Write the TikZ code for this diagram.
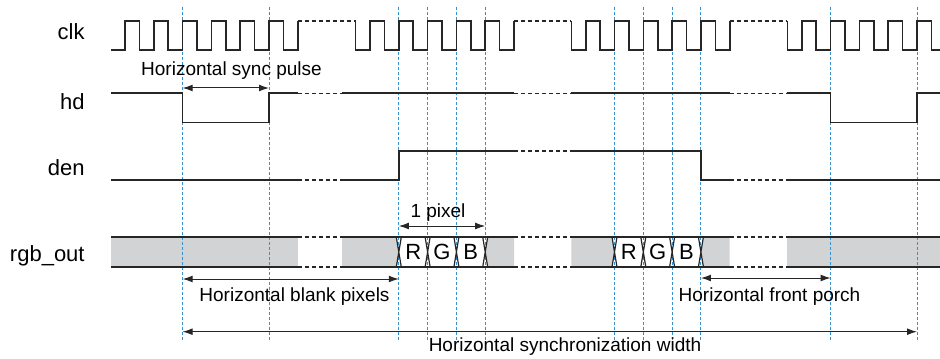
\documentclass[tikz,border=0pt]{standalone}
\usepackage{fontspec}
\setmainfont{Liberation Sans}
\usepackage{tikz}
\usetikzlibrary{arrows.meta}

\definecolor{guideblue}{RGB}{50,145,210}
\definecolor{busgray}{RGB}{209,211,212}

\tikzset{
  sig/.style={line width=0.8pt, black!85},
  gap/.style={line width=0.6pt, black!85, dash pattern=on 2pt off 1.5pt},
  guide/.style={line width=0.5pt, guideblue, dash pattern=on 1.5pt off 1pt},
  dim/.style={line width=0.5pt, black!85, <->},
  signame/.style={anchor=base east, inner sep=0pt, font=\fontsize{11}{13}\selectfont},
  note/.style={inner sep=0pt, font=\fontsize{9.5}{11}\selectfont},
  cell/.style={inner sep=0pt, font=\fontsize{11}{13}\selectfont}
}

\begin{document}
\begin{tikzpicture}[x=0.5pt, y=-0.5pt, >={Latex[length=5pt,width=3.4pt]}]
      \useasboundingbox (0,0) rectangle (940,358);

      % Marker positions
      \coordinate (m1) at (182.6,7);
      \coordinate (m2) at (269,7);
      \coordinate (m3) at (398.8,7);
      \coordinate (m4) at (427.6,7);
      \coordinate (m5) at (456.4,7);
      \coordinate (m6) at (485.2,7);
      \coordinate (m7) at (614.5,7);
      \coordinate (m8) at (643.3,7);
      \coordinate (m9) at (672.1,7);
      \coordinate (m10) at (700.9,7);
      \coordinate (m11) at (830.6,7);
      \coordinate (m12) at (917,7);
      \coordinate (gbot) at (0,341);

      % Gray bus areas
      \fill[busgray] (111,237) rectangle (297.8,267);
      \fill[busgray] (342,237) -- (396.3,237) -- (398.8,252) -- (396.3,267) -- (342,267) -- cycle;
      \fill[busgray] (487.7,237) -- (514,237) -- (514,267) -- (487.7,267) -- (485.2,252) -- cycle;
      \fill[busgray] (571.3,237) -- (612,237) -- (614.5,252) -- (612,267) -- (571.3,267) -- cycle;
      \fill[busgray] (703.4,237) -- (729.7,237) -- (729.7,267) -- (703.4,267) -- (700.9,252) -- cycle;
      \fill[busgray] (787.4,237) rectangle (940,267);

      % Timing guides
      \foreach \i in {1,...,12}
        \draw[guide] (m\i) -- (m\i |- gbot);

      % Signal names
      \node[signame] (clk) at (85,39.3) {clk};
      \node[signame] (hd) at (85,110) {hd};
      \node[signame] (den) at (85,175.7) {den};
      \node[signame] (rgb) at (85,261) {rgb\_out};

      % clk
      \draw[sig] (111,50) \foreach \k in {0,...,5} { -- ({125+28.8*\k},50) -- ({125+28.8*\k},21)
        -- ({139.4+28.8*\k},21) -- ({139.4+28.8*\k},50) } -- (297.8,50) -- (297.8,21);
      \draw[gap] (297.8,21) -- (355.6,21);
      \draw[sig] (355.6,21) \foreach \k in {0,...,5} { -- ({355.6+28.8*\k},21) -- ({355.6+28.8*\k},50)
        -- ({370+28.8*\k},50) -- ({370+28.8*\k},21) };
      \draw[gap] (514,21) -- (571.3,21);
      \draw[sig] (571.3,21) \foreach \k in {0,...,5} { -- ({571.3+28.8*\k},21) -- ({571.3+28.8*\k},50)
        -- ({585.7+28.8*\k},50) -- ({585.7+28.8*\k},21) };
      \draw[gap] (729.7,21) -- (787.4,21);
      \draw[sig] (787.4,21) \foreach \k in {0,...,4} { -- ({787.4+28.8*\k},21) -- ({787.4+28.8*\k},50)
        -- ({801.8+28.8*\k},50) -- ({801.8+28.8*\k},21) } -- (931.4,21) -- (931.4,50) -- (940,50);

      % hd
      \draw[sig] (111,93.3) -- (182.6,93.3) -- (182.6,122.3) -- (269,122.3) -- (269,93.3) -- (297.8,93.3);
      \draw[gap] (297.8,93.3) -- (342,93.3);
      \draw[sig] (342,93.3) -- (514,93.3);
      \draw[gap] (514,93.3) -- (571.3,93.3);
      \draw[sig] (571.3,93.3) -- (729.7,93.3);
      \draw[gap] (729.7,93.3) -- (787.4,93.3);
      \draw[sig] (787.4,93.3) -- (830.6,93.3) -- (830.6,122.3) -- (917,122.3) -- (917,93.3) -- (940,93.3);

      % den
      \draw[sig] (111,180) -- (297.8,180);
      \draw[gap] (297.8,180) -- (342,180);
      \draw[sig] (342,180) -- (398.8,180) -- (398.8,151) -- (514,151);
      \draw[gap] (514,151) -- (571.3,151);
      \draw[sig] (571.3,151) -- (700.9,151) -- (700.9,180) -- (729.7,180);
      \draw[gap] (729.7,180) -- (787.4,180);
      \draw[sig] (787.4,180) -- (940,180);

      % rgb_out
      \draw[sig] (111,237) -- (297.8,237) (111,267) -- (297.8,267);
      \draw[gap] (297.8,237) -- (342,237) (297.8,267) -- (342,267);
      \draw[sig] (342,237) -- (514,237) (342,267) -- (514,267);
      \draw[gap] (514,237) -- (571.3,237) (514,267) -- (571.3,267);
      \draw[sig] (571.3,237) -- (729.7,237) (571.3,267) -- (729.7,267);
      \draw[gap] (729.7,237) -- (787.4,237) (729.7,267) -- (787.4,267);
      \draw[sig] (787.4,237) -- (940,237) (787.4,267) -- (940,267);
      \foreach \x in {398.8,427.6,456.4,485.2,614.5,643.3,672.1,700.9}
        \draw[sig, line width=0.6pt] ({\x-2.5},237) -- ({\x+2.5},267) ({\x-2.5},267) -- ({\x+2.5},237);
      \node[cell] (r1) at (413.2,252) {R};
      \node[cell] (g1) at (442,252) {G};
      \node[cell] (b1) at (470.8,252) {B};
      \node[cell] (r2) at (628.9,252) {R};
      \node[cell] (g2) at (657.7,252) {G};
      \node[cell] (b2) at (686.5,252) {B};

      % Dimension arrows
      \coordinate (ysp) at (0,88);
      \coordinate (ypx) at (0,226);
      \coordinate (ybl) at (0,279);
      \coordinate (yfp) at (0,278);
      \coordinate (ysw) at (0,331.7);
      \draw[dim] (m1 |- ysp) -- (m2 |- ysp);
      \draw[dim] (m3 |- ypx) -- (m6 |- ypx);
      \draw[dim] (m1 |- ybl) -- (m3 |- ybl);
      \draw[dim] (m10 |- yfp) -- (m11 |- yfp);
      \draw[dim] (m1 |- ysw) -- (m12 |- ysw);

      % Dimension labels
      \node[note] (sync) at (231.5,71) {Horizontal sync pulse};
      \node[note] (pix) at (438,212.7) {1 pixel};
      \node[note] (blank) at (294.5,296.7) {Horizontal blank pixels};
      \node[note] (porch) at (769.5,296.7) {Horizontal front porch};
      \node[note] (width) at (565,347) {Horizontal synchronization width};
    \end{tikzpicture}
\end{document}
